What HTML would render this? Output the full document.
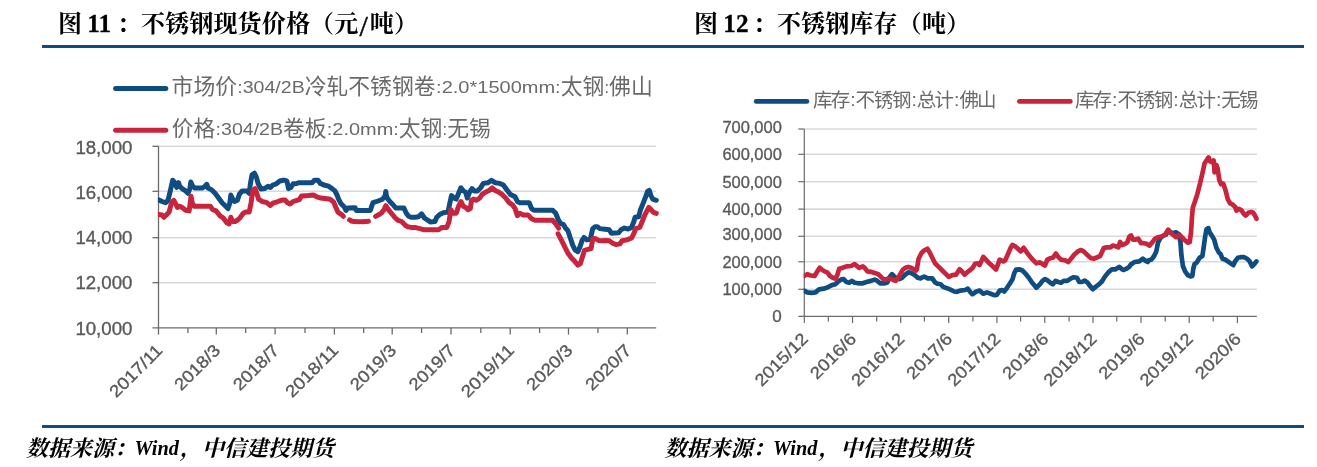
<!DOCTYPE html>
<html lang="zh-CN">
<head>
<meta charset="utf-8">
<title>不锈钢现货价格 / 不锈钢库存</title>
<style>
html,body{margin:0;padding:0;background:#fff;}
body{width:1317px;height:467px;overflow:hidden;font-family:"Liberation Sans",sans-serif;}
#page{position:relative;width:1317px;height:467px;background:#fff;overflow:hidden;}
.rule{position:absolute;left:42px;width:1262px;height:3px;background:#0f4c81;}
#rule-top{top:44.5px;}
#rule-bottom{top:424.8px;}
svg{position:absolute;left:0;top:0;overflow:visible;will-change:transform;}
svg text{font-family:"Liberation Sans",sans-serif;}
svg text.ax{stroke:#595959;stroke-width:0.35px;}
svg text.serif{font-family:"Liberation Serif",serif;font-weight:bold;}
svg text.kailat{font-family:"Liberation Serif",serif;font-weight:bold;font-style:italic;}
</style>
</head>
<body>
<div id="page">
<div class="rule" id="rule-top"></div>
<div class="rule" id="rule-bottom"></div>
<svg class="title" width="1317" height="467" viewBox="0 0 1317 467" role="img" aria-label="图 11：不锈钢现货价格（元/吨）">
<text x="58" y="32" font-size="24" fill="#000" style="font-family:'Liberation Serif','Noto Serif CJK SC',serif;font-weight:bold">图</text>
<text class="serif" x="87.3" y="31.7" font-size="25.2" fill="#000" stroke="#000" stroke-width="0.3">11</text>
<text x="117" y="32" font-size="24" fill="#000" style="font-family:'Liberation Serif','Noto Serif CJK SC',serif;font-weight:bold">：</text>
<text x="141" y="32" font-size="24" fill="#000" textLength="217.2" lengthAdjust="spacing" style="font-family:'Liberation Serif','Noto Serif CJK SC',serif;font-weight:bold">不锈钢现货价格（元</text>
<text x="359.5" y="35.6" font-size="30" fill="#000" stroke="#000" stroke-width="0.5" style="font-family:'Liberation Serif',serif">/</text>
<text x="369.85" y="32" font-size="24" fill="#000" textLength="48.15" lengthAdjust="spacing" style="font-family:'Liberation Serif','Noto Serif CJK SC',serif;font-weight:bold">吨）</text>
</svg>
<svg class="title" width="1317" height="467" viewBox="0 0 1317 467" role="img" aria-label="图 12：不锈钢库存（吨）">
<text x="694" y="32" font-size="24" fill="#000" style="font-family:'Liberation Serif','Noto Serif CJK SC',serif;font-weight:bold">图</text>
<text class="serif" x="723.3" y="31.7" font-size="25.2" fill="#000" stroke="#000" stroke-width="0.3">12</text>
<text x="753" y="32" font-size="24" fill="#000" style="font-family:'Liberation Serif','Noto Serif CJK SC',serif;font-weight:bold">：</text>
<text x="777" y="32" font-size="24" fill="#000" textLength="193.05" lengthAdjust="spacing" style="font-family:'Liberation Serif','Noto Serif CJK SC',serif;font-weight:bold">不锈钢库存（吨）</text>
</svg>
<svg class="chart" id="chart1" width="1317" height="467" viewBox="0 0 1317 467" role="img" aria-label="不锈钢现货价格">
<line x1="158.5" y1="146.3" x2="656.2" y2="146.3" stroke="#d9d9d9" stroke-width="1.5"/>
<line x1="158.5" y1="191.3" x2="656.2" y2="191.3" stroke="#d9d9d9" stroke-width="1.5"/>
<line x1="158.5" y1="237.7" x2="656.2" y2="237.7" stroke="#d9d9d9" stroke-width="1.5"/>
<line x1="158.5" y1="282.7" x2="656.2" y2="282.7" stroke="#d9d9d9" stroke-width="1.5"/>
<line x1="158.5" y1="146.3" x2="158.5" y2="327.8" stroke="#6b6b6b" stroke-width="1.3"/>
<line x1="152.5" y1="327.8" x2="656.2" y2="327.8" stroke="#6b6b6b" stroke-width="1.3"/>
<line x1="152.5" y1="146.3" x2="158.5" y2="146.3" stroke="#6b6b6b" stroke-width="1.3"/>
<line x1="152.5" y1="191.3" x2="158.5" y2="191.3" stroke="#6b6b6b" stroke-width="1.3"/>
<line x1="152.5" y1="237.7" x2="158.5" y2="237.7" stroke="#6b6b6b" stroke-width="1.3"/>
<line x1="152.5" y1="282.7" x2="158.5" y2="282.7" stroke="#6b6b6b" stroke-width="1.3"/>
<line x1="158.5" y1="327.8" x2="158.5" y2="334.6" stroke="#6b6b6b" stroke-width="1.3"/>
<line x1="187.9" y1="327.8" x2="187.9" y2="333.0" stroke="#6b6b6b" stroke-width="1.3"/>
<line x1="216.3" y1="327.8" x2="216.3" y2="334.6" stroke="#6b6b6b" stroke-width="1.3"/>
<line x1="245.7" y1="327.8" x2="245.7" y2="333.0" stroke="#6b6b6b" stroke-width="1.3"/>
<line x1="275.1" y1="327.8" x2="275.1" y2="334.6" stroke="#6b6b6b" stroke-width="1.3"/>
<line x1="305.0" y1="327.8" x2="305.0" y2="333.0" stroke="#6b6b6b" stroke-width="1.3"/>
<line x1="334.4" y1="327.8" x2="334.4" y2="334.6" stroke="#6b6b6b" stroke-width="1.3"/>
<line x1="363.7" y1="327.8" x2="363.7" y2="333.0" stroke="#6b6b6b" stroke-width="1.3"/>
<line x1="392.2" y1="327.8" x2="392.2" y2="334.6" stroke="#6b6b6b" stroke-width="1.3"/>
<line x1="421.6" y1="327.8" x2="421.6" y2="333.0" stroke="#6b6b6b" stroke-width="1.3"/>
<line x1="451.0" y1="327.8" x2="451.0" y2="334.6" stroke="#6b6b6b" stroke-width="1.3"/>
<line x1="480.8" y1="327.8" x2="480.8" y2="333.0" stroke="#6b6b6b" stroke-width="1.3"/>
<line x1="510.2" y1="327.8" x2="510.2" y2="334.6" stroke="#6b6b6b" stroke-width="1.3"/>
<line x1="539.6" y1="327.8" x2="539.6" y2="333.0" stroke="#6b6b6b" stroke-width="1.3"/>
<line x1="568.5" y1="327.8" x2="568.5" y2="334.6" stroke="#6b6b6b" stroke-width="1.3"/>
<line x1="597.9" y1="327.8" x2="597.9" y2="333.0" stroke="#6b6b6b" stroke-width="1.3"/>
<line x1="627.3" y1="327.8" x2="627.3" y2="334.6" stroke="#6b6b6b" stroke-width="1.3"/>
<text class="ax" x="132.4" y="153.6" font-size="17.6" fill="#595959" text-anchor="end" textLength="57" lengthAdjust="spacingAndGlyphs">18,000</text>
<text class="ax" x="132.4" y="198.9" font-size="17.6" fill="#595959" text-anchor="end" textLength="57" lengthAdjust="spacingAndGlyphs">16,000</text>
<text class="ax" x="132.4" y="243.8" font-size="17.6" fill="#595959" text-anchor="end" textLength="57" lengthAdjust="spacingAndGlyphs">14,000</text>
<text class="ax" x="132.4" y="288.9" font-size="17.6" fill="#595959" text-anchor="end" textLength="57" lengthAdjust="spacingAndGlyphs">12,000</text>
<text class="ax" x="132.4" y="335.2" font-size="17.6" fill="#595959" text-anchor="end" textLength="57" lengthAdjust="spacingAndGlyphs">10,000</text>
<text class="ax" transform="translate(163.5 351.4) rotate(-45)" font-size="17" fill="#595959" text-anchor="end" textLength="66.7" lengthAdjust="spacingAndGlyphs">2017/11</text>
<text class="ax" transform="translate(221.3 351.4) rotate(-45)" font-size="17" fill="#595959" text-anchor="end" textLength="56.8" lengthAdjust="spacingAndGlyphs">2018/3</text>
<text class="ax" transform="translate(280.1 351.4) rotate(-45)" font-size="17" fill="#595959" text-anchor="end" textLength="56.8" lengthAdjust="spacingAndGlyphs">2018/7</text>
<text class="ax" transform="translate(339.4 351.4) rotate(-45)" font-size="17" fill="#595959" text-anchor="end" textLength="66.7" lengthAdjust="spacingAndGlyphs">2018/11</text>
<text class="ax" transform="translate(397.2 351.4) rotate(-45)" font-size="17" fill="#595959" text-anchor="end" textLength="56.8" lengthAdjust="spacingAndGlyphs">2019/3</text>
<text class="ax" transform="translate(456.0 351.4) rotate(-45)" font-size="17" fill="#595959" text-anchor="end" textLength="56.8" lengthAdjust="spacingAndGlyphs">2019/7</text>
<text class="ax" transform="translate(515.2 351.4) rotate(-45)" font-size="17" fill="#595959" text-anchor="end" textLength="66.7" lengthAdjust="spacingAndGlyphs">2019/11</text>
<text class="ax" transform="translate(573.5 351.4) rotate(-45)" font-size="17" fill="#595959" text-anchor="end" textLength="56.8" lengthAdjust="spacingAndGlyphs">2020/3</text>
<text class="ax" transform="translate(632.3 351.4) rotate(-45)" font-size="17" fill="#595959" text-anchor="end" textLength="56.8" lengthAdjust="spacingAndGlyphs">2020/7</text>
<clipPath id="clip1"><rect x="157.9" y="100" width="501.7" height="240"/></clipPath>
<g clip-path="url(#clip1)">
<path d="M158.5 199.9 L162.1 201.5 L165.6 202.7 L168.0 200.3 L170.3 190.9 L172.7 180.3 L175.0 182.7 L176.7 187.4 L178.6 182.7 L179.7 186.2 L182.1 188.6 L185.6 190.9 L188.0 193.3 L189.9 188.6 L190.8 182.0 L192.7 186.2 L195.0 188.1 L202.1 188.1 L204.5 186.7 L206.8 184.3 L208.0 188.1 L211.5 189.7 L215.1 193.3 L218.6 198.0 L222.1 202.7 L225.7 206.2 L228.0 208.6 L229.9 202.7 L230.8 195.1 L232.7 199.1 L234.6 201.5 L237.4 200.3 L239.3 194.4 L242.1 190.9 L246.8 190.9 L249.2 193.3 L250.4 183.8 L252.0 174.9 L254.4 173.2 L256.3 176.8 L258.2 183.8 L261.0 189.0 L264.5 188.6 L268.0 186.2 L270.4 187.4 L272.8 185.0 L276.3 183.8 L279.8 181.0 L283.4 180.3 L285.0 180.3 L286.9 181.0 L288.5 188.6 L290.9 187.4 L293.2 183.8 L296.8 183.4 L299.1 182.7 L312.1 182.7 L314.4 180.3 L318.0 180.3 L320.3 183.4 L323.9 185.0 L328.6 186.2 L332.1 188.6 L334.9 190.9 L337.0 195.0 L337.3 195.6 L338.7 199.3 L340.9 203.6 L344.3 207.0 L346.0 210.4 L348.1 207.9 L355.0 207.7 L356.3 210.4 L370.4 210.4 L371.7 206.1 L373.0 202.7 L378.1 201.0 L382.4 199.3 L384.4 196.8 L385.0 196.7 L385.8 191.4 L386.3 195.0 L387.2 198.0 L389.8 201.5 L393.3 205.0 L395.7 207.9 L403.9 207.9 L406.3 213.3 L408.6 216.3 L411.0 217.3 L415.0 217.3 L418.5 216.8 L421.6 213.8 L424.4 218.0 L428.0 220.3 L430.3 222.0 L435.0 221.5 L436.7 217.3 L439.7 214.5 L443.3 212.8 L448.0 212.1 L449.9 202.7 L451.5 195.6 L453.9 198.0 L456.2 199.1 L458.6 193.3 L460.9 187.8 L463.3 190.9 L465.6 192.1 L467.3 198.0 L469.6 192.1 L472.0 188.6 L474.3 190.9 L477.4 190.9 L480.9 187.4 L483.3 183.4 L488.0 182.7 L491.5 180.3 L495.1 182.7 L499.8 183.4 L503.3 185.0 L506.8 189.7 L510.4 194.4 L515.1 196.8 L517.4 201.5 L519.8 202.7 L529.2 202.7 L531.6 208.6 L533.9 210.2 L545.0 210.2 L552.7 210.2 L555.7 213.3 L558.1 219.2 L560.4 223.4 L563.3 224.3 L565.6 228.1 L568.0 230.9 L570.3 238.0 L572.7 245.1 L575.0 249.8 L577.9 251.7 L580.2 246.2 L582.1 240.4 L584.0 237.5 L586.8 239.9 L590.3 239.2 L592.7 228.6 L595.1 226.7 L597.4 226.7 L599.8 228.6 L603.3 229.1 L609.2 229.8 L611.5 233.3 L618.6 232.8 L621.0 229.8 L624.5 228.1 L628.0 229.1 L631.6 227.4 L633.9 221.5 L635.1 217.3 L638.6 216.8 L640.5 209.7 L642.9 203.9 L645.2 198.0 L647.6 191.4 L649.2 190.4 L650.9 195.6 L652.8 199.1 L656.3 200.3" fill="none" stroke="#0f4c81" stroke-width="5" stroke-linejoin="round" stroke-linecap="round"/>
<path d="M158.5 214.5 L162.1 214.9 L163.9 217.3 L166.8 214.5 L169.1 212.1 L171.5 202.7 L173.8 200.3 L175.7 203.9 L177.4 207.4 L179.7 206.2 L182.1 207.4 L185.6 210.2 L189.1 210.9 L190.3 202.7 L191.0 196.3 L192.2 202.7 L193.9 206.2 L210.3 206.2 L212.7 209.7 L216.2 210.9 L219.8 215.6 L223.3 218.0 L226.8 222.7 L229.2 223.9 L230.8 217.3 L232.7 221.5 L235.1 221.5 L237.4 220.3 L239.8 218.0 L243.3 213.3 L245.7 212.1 L249.2 212.1 L251.1 202.7 L252.7 190.9 L255.1 188.6 L256.7 193.3 L258.6 199.1 L262.2 201.5 L266.9 202.7 L270.4 205.5 L272.8 203.2 L276.3 202.2 L279.8 200.8 L283.4 199.9 L285.0 199.9 L287.4 202.7 L290.2 203.9 L293.2 201.5 L296.8 200.3 L299.1 199.9 L301.5 196.1 L308.6 195.6 L313.3 195.1 L316.8 196.8 L320.3 198.0 L325.0 198.4 L330.1 199.3 L333.6 201.9 L335.7 207.0 L337.9 212.1 L341.3 214.3 L343.3 216.3" fill="none" stroke="#c8243e" stroke-width="5" stroke-linejoin="round" stroke-linecap="round"/>
<path d="M349.6 219.9 L351.5 221.0 L354.0 221.6 L359.2 221.8" fill="none" stroke="#c8243e" stroke-width="5" stroke-linejoin="round" stroke-linecap="round"/>
<path d="M361.4 221.8 L366.0 221.6 L368.4 221.2" fill="none" stroke="#c8243e" stroke-width="5" stroke-linejoin="round" stroke-linecap="round"/>
<path d="M375.6 216.4 L378.6 214.8 L381.5 213.0 L384.1 209.6 L385.8 205.7 L388.4 209.6 L391.8 213.8 L395.0 217.7 L398.0 220.3 L401.6 221.5 L405.1 225.1 L407.5 226.7 L411.0 227.4 L415.0 227.4 L419.7 228.6 L424.4 229.8 L438.6 229.8 L442.1 227.4 L446.8 227.4 L449.1 221.5 L450.8 209.7 L453.2 213.3 L456.2 213.3 L458.6 206.2 L460.9 201.5 L463.3 206.2 L465.6 207.4 L468.0 209.7 L470.3 208.6 L471.5 200.3 L473.9 199.1 L476.2 200.3 L479.8 198.0 L482.1 194.4 L485.7 192.1 L489.2 190.4 L492.2 187.8 L495.1 190.4 L498.6 192.1 L502.1 194.4 L505.7 198.0 L509.2 202.7 L512.7 205.0 L515.1 208.6 L517.4 215.6 L519.8 213.3 L523.3 214.9 L528.0 214.9 L531.6 218.7 L535.1 220.3 L545.0 220.3 L552.7 220.3 L555.7 223.9 L558.6 228.1" fill="none" stroke="#c8243e" stroke-width="5" stroke-linejoin="round" stroke-linecap="round"/>
<path d="M558.1 233.8 L560.9 239.2 L564.4 246.2 L568.0 253.3 L571.5 258.0 L575.0 261.6 L577.9 265.1 L580.2 263.9 L582.1 258.0 L584.5 250.3 L588.0 249.3 L591.1 248.6 L592.7 239.2 L595.1 238.5 L598.6 240.4 L602.1 240.8 L605.7 240.4 L609.2 240.8 L612.7 243.2 L616.2 244.6 L619.8 243.9 L622.1 240.8 L626.8 239.9 L631.6 238.0 L633.9 233.3 L635.8 228.6 L639.8 227.4 L642.2 221.5 L644.5 215.6 L646.9 210.9 L648.8 207.4 L650.9 209.3 L653.2 212.1 L656.3 213.3" fill="none" stroke="#c8243e" stroke-width="5" stroke-linejoin="round" stroke-linecap="round"/>
</g>
<line x1="115.6" y1="88.6" x2="165.8" y2="88.6" stroke="#0f4c81" stroke-width="5" stroke-linecap="round"/>
<line x1="115.6" y1="130.2" x2="165.8" y2="130.2" stroke="#c8243e" stroke-width="5" stroke-linecap="round"/>
<text x="171.60" y="94.20" font-size="21.8" fill="#6a6a6a" textLength="65.4" lengthAdjust="spacing" style="font-family:'Liberation Sans','Noto Sans CJK SC',sans-serif">市场价</text>
<text x="237.30" y="93.20" font-size="16.5" fill="#6a6a6a" textLength="67.40" lengthAdjust="spacingAndGlyphs">:304/2B</text>
<text x="304.70" y="94.20" font-size="21.8" fill="#6a6a6a" textLength="130.8" lengthAdjust="spacing" style="font-family:'Liberation Sans','Noto Sans CJK SC',sans-serif">冷轧不锈钢卷</text>
<text x="436.10" y="93.20" font-size="16.5" fill="#6a6a6a" textLength="124.60" lengthAdjust="spacingAndGlyphs">:2.0*1500mm:</text>
<text x="560.70" y="94.20" font-size="21.8" fill="#6a6a6a" textLength="43.6" lengthAdjust="spacing" style="font-family:'Liberation Sans','Noto Sans CJK SC',sans-serif">太钢</text>
<text x="604.50" y="93.20" font-size="16.5" fill="#6a6a6a" textLength="4.60" lengthAdjust="spacingAndGlyphs">:</text>
<text x="609.10" y="94.20" font-size="21.8" fill="#6a6a6a" textLength="43.6" lengthAdjust="spacing" style="font-family:'Liberation Sans','Noto Sans CJK SC',sans-serif">佛山</text>
<text x="171.80" y="135.80" font-size="21.8" fill="#6a6a6a" textLength="43.6" lengthAdjust="spacing" style="font-family:'Liberation Sans','Noto Sans CJK SC',sans-serif">价格</text>
<text x="215.60" y="134.80" font-size="16.5" fill="#6a6a6a" textLength="67.40" lengthAdjust="spacingAndGlyphs">:304/2B</text>
<text x="283.00" y="135.80" font-size="21.8" fill="#6a6a6a" textLength="43.6" lengthAdjust="spacing" style="font-family:'Liberation Sans','Noto Sans CJK SC',sans-serif">卷板</text>
<text x="326.80" y="134.80" font-size="16.5" fill="#6a6a6a" textLength="72.00" lengthAdjust="spacingAndGlyphs">:2.0mm:</text>
<text x="398.80" y="135.80" font-size="21.8" fill="#6a6a6a" textLength="43.6" lengthAdjust="spacing" style="font-family:'Liberation Sans','Noto Sans CJK SC',sans-serif">太钢</text>
<text x="442.60" y="134.80" font-size="16.5" fill="#6a6a6a" textLength="4.60" lengthAdjust="spacingAndGlyphs">:</text>
<text x="447.20" y="135.80" font-size="21.8" fill="#6a6a6a" textLength="43.6" lengthAdjust="spacing" style="font-family:'Liberation Sans','Noto Sans CJK SC',sans-serif">无锡</text>
</svg>
<svg class="chart" id="chart2" width="1317" height="467" viewBox="0 0 1317 467" role="img" aria-label="不锈钢库存">
<line x1="804.3" y1="129.0" x2="1256.8" y2="129.0" stroke="#d9d9d9" stroke-width="1.6"/>
<line x1="804.3" y1="154.3" x2="1256.8" y2="154.3" stroke="#d9d9d9" stroke-width="1.6"/>
<line x1="804.3" y1="181.7" x2="1256.8" y2="181.7" stroke="#d9d9d9" stroke-width="1.6"/>
<line x1="804.3" y1="209.1" x2="1256.8" y2="209.1" stroke="#d9d9d9" stroke-width="1.6"/>
<line x1="804.3" y1="236.3" x2="1256.8" y2="236.3" stroke="#d9d9d9" stroke-width="1.6"/>
<line x1="804.3" y1="261.8" x2="1256.8" y2="261.8" stroke="#d9d9d9" stroke-width="1.6"/>
<line x1="804.3" y1="289.3" x2="1256.8" y2="289.3" stroke="#d9d9d9" stroke-width="1.6"/>
<line x1="804.3" y1="129.0" x2="804.3" y2="316.3" stroke="#6b6b6b" stroke-width="1.2"/>
<line x1="798.3" y1="316.3" x2="1256.8" y2="316.3" stroke="#6b6b6b" stroke-width="1.2"/>
<line x1="798.3" y1="129.0" x2="804.3" y2="129.0" stroke="#6b6b6b" stroke-width="1.2"/>
<line x1="798.3" y1="154.3" x2="804.3" y2="154.3" stroke="#6b6b6b" stroke-width="1.2"/>
<line x1="798.3" y1="181.7" x2="804.3" y2="181.7" stroke="#6b6b6b" stroke-width="1.2"/>
<line x1="798.3" y1="209.1" x2="804.3" y2="209.1" stroke="#6b6b6b" stroke-width="1.2"/>
<line x1="798.3" y1="236.3" x2="804.3" y2="236.3" stroke="#6b6b6b" stroke-width="1.2"/>
<line x1="798.3" y1="261.8" x2="804.3" y2="261.8" stroke="#6b6b6b" stroke-width="1.2"/>
<line x1="798.3" y1="289.3" x2="804.3" y2="289.3" stroke="#6b6b6b" stroke-width="1.2"/>
<line x1="804.3" y1="316.3" x2="804.3" y2="323.1" stroke="#6b6b6b" stroke-width="1.2"/>
<line x1="828.3" y1="316.3" x2="828.3" y2="321.5" stroke="#6b6b6b" stroke-width="1.2"/>
<line x1="852.5" y1="316.3" x2="852.5" y2="323.1" stroke="#6b6b6b" stroke-width="1.2"/>
<line x1="876.7" y1="316.3" x2="876.7" y2="321.5" stroke="#6b6b6b" stroke-width="1.2"/>
<line x1="900.7" y1="316.3" x2="900.7" y2="323.1" stroke="#6b6b6b" stroke-width="1.2"/>
<line x1="924.4" y1="316.3" x2="924.4" y2="321.5" stroke="#6b6b6b" stroke-width="1.2"/>
<line x1="948.7" y1="316.3" x2="948.7" y2="323.1" stroke="#6b6b6b" stroke-width="1.2"/>
<line x1="972.9" y1="316.3" x2="972.9" y2="321.5" stroke="#6b6b6b" stroke-width="1.2"/>
<line x1="996.9" y1="316.3" x2="996.9" y2="323.1" stroke="#6b6b6b" stroke-width="1.2"/>
<line x1="1020.6" y1="316.3" x2="1020.6" y2="321.5" stroke="#6b6b6b" stroke-width="1.2"/>
<line x1="1044.8" y1="316.3" x2="1044.8" y2="323.1" stroke="#6b6b6b" stroke-width="1.2"/>
<line x1="1069.1" y1="316.3" x2="1069.1" y2="321.5" stroke="#6b6b6b" stroke-width="1.2"/>
<line x1="1093.0" y1="316.3" x2="1093.0" y2="323.1" stroke="#6b6b6b" stroke-width="1.2"/>
<line x1="1116.8" y1="316.3" x2="1116.8" y2="321.5" stroke="#6b6b6b" stroke-width="1.2"/>
<line x1="1141.0" y1="316.3" x2="1141.0" y2="323.1" stroke="#6b6b6b" stroke-width="1.2"/>
<line x1="1165.2" y1="316.3" x2="1165.2" y2="321.5" stroke="#6b6b6b" stroke-width="1.2"/>
<line x1="1189.2" y1="316.3" x2="1189.2" y2="323.1" stroke="#6b6b6b" stroke-width="1.2"/>
<line x1="1213.2" y1="316.3" x2="1213.2" y2="321.5" stroke="#6b6b6b" stroke-width="1.2"/>
<line x1="1237.4" y1="316.3" x2="1237.4" y2="323.1" stroke="#6b6b6b" stroke-width="1.2"/>
<text class="ax" x="781.8" y="132.7" font-size="17" fill="#595959" text-anchor="end" textLength="59.4" lengthAdjust="spacingAndGlyphs">700,000</text>
<text class="ax" x="781.8" y="160.1" font-size="17" fill="#595959" text-anchor="end" textLength="59.4" lengthAdjust="spacingAndGlyphs">600,000</text>
<text class="ax" x="781.8" y="187.7" font-size="17" fill="#595959" text-anchor="end" textLength="59.4" lengthAdjust="spacingAndGlyphs">500,000</text>
<text class="ax" x="781.8" y="215.0" font-size="17" fill="#595959" text-anchor="end" textLength="59.4" lengthAdjust="spacingAndGlyphs">400,000</text>
<text class="ax" x="781.8" y="240.4" font-size="17" fill="#595959" text-anchor="end" textLength="59.4" lengthAdjust="spacingAndGlyphs">300,000</text>
<text class="ax" x="781.8" y="267.7" font-size="17" fill="#595959" text-anchor="end" textLength="59.4" lengthAdjust="spacingAndGlyphs">200,000</text>
<text class="ax" x="781.8" y="294.9" font-size="17" fill="#595959" text-anchor="end" textLength="59.4" lengthAdjust="spacingAndGlyphs">100,000</text>
<text class="ax" x="781.8" y="322.0" font-size="17" fill="#595959" text-anchor="end">0</text>
<text class="ax" transform="translate(809.0 340.0) rotate(-45)" font-size="17" fill="#595959" text-anchor="end" textLength="66.7" lengthAdjust="spacingAndGlyphs">2015/12</text>
<text class="ax" transform="translate(857.2 340.0) rotate(-45)" font-size="17" fill="#595959" text-anchor="end" textLength="56.8" lengthAdjust="spacingAndGlyphs">2016/6</text>
<text class="ax" transform="translate(905.4 340.0) rotate(-45)" font-size="17" fill="#595959" text-anchor="end" textLength="66.7" lengthAdjust="spacingAndGlyphs">2016/12</text>
<text class="ax" transform="translate(953.4 340.0) rotate(-45)" font-size="17" fill="#595959" text-anchor="end" textLength="56.8" lengthAdjust="spacingAndGlyphs">2017/6</text>
<text class="ax" transform="translate(1001.6 340.0) rotate(-45)" font-size="17" fill="#595959" text-anchor="end" textLength="66.7" lengthAdjust="spacingAndGlyphs">2017/12</text>
<text class="ax" transform="translate(1049.5 340.0) rotate(-45)" font-size="17" fill="#595959" text-anchor="end" textLength="56.8" lengthAdjust="spacingAndGlyphs">2018/6</text>
<text class="ax" transform="translate(1097.7 340.0) rotate(-45)" font-size="17" fill="#595959" text-anchor="end" textLength="66.7" lengthAdjust="spacingAndGlyphs">2018/12</text>
<text class="ax" transform="translate(1145.7 340.0) rotate(-45)" font-size="17" fill="#595959" text-anchor="end" textLength="56.8" lengthAdjust="spacingAndGlyphs">2019/6</text>
<text class="ax" transform="translate(1193.9 340.0) rotate(-45)" font-size="17" fill="#595959" text-anchor="end" textLength="66.7" lengthAdjust="spacingAndGlyphs">2019/12</text>
<text class="ax" transform="translate(1242.1 340.0) rotate(-45)" font-size="17" fill="#595959" text-anchor="end" textLength="56.8" lengthAdjust="spacingAndGlyphs">2020/6</text>
<clipPath id="clip2"><rect x="803.7" y="100" width="456.5" height="240"/></clipPath>
<g clip-path="url(#clip2)">
<path d="M804.0 290.6 L807.3 292.4 L811.8 292.9 L815.5 292.4 L819.1 289.3 L823.7 288.7 L827.3 287.5 L831.9 285.1 L835.5 284.2 L838.2 281.5 L841.0 279.6 L843.7 279.1 L846.4 282.0 L849.2 282.7 L851.9 280.9 L854.6 282.7 L858.3 283.3 L862.8 283.3 L866.5 282.0 L871.0 280.9 L874.7 279.6 L877.4 280.9 L880.1 283.3 L884.7 283.3 L887.4 282.4 L889.2 277.8 L892.0 274.2 L893.8 276.0 L896.5 278.4 L899.2 279.1 L902.0 277.8 L904.7 275.1 L908.3 272.4 L911.1 272.9 L914.7 275.1 L917.5 277.3 L917.7 277.8 L920.5 278.4 L924.1 276.5 L927.7 278.4 L932.3 278.4 L935.0 282.4 L937.8 283.8 L940.5 284.2 L943.2 286.9 L946.9 288.2 L950.5 289.7 L954.2 291.5 L956.9 291.8 L960.5 290.6 L965.1 290.0 L967.8 288.7 L970.5 292.4 L972.4 294.2 L976.0 291.8 L979.6 290.6 L983.3 293.7 L986.9 292.4 L990.6 293.7 L994.2 295.1 L996.9 294.8 L999.7 290.6 L1002.4 290.0 L1004.2 291.5 L1007.0 287.8 L1009.7 283.8 L1012.4 279.6 L1014.2 273.3 L1016.1 269.6 L1019.7 269.3 L1022.4 270.5 L1025.2 273.3 L1028.8 277.8 L1032.5 283.3 L1032.7 283.3 L1036.4 287.8 L1040.0 284.2 L1042.7 280.6 L1044.9 279.1 L1047.3 280.2 L1050.0 282.4 L1052.8 284.2 L1055.5 280.9 L1058.2 282.0 L1061.0 282.7 L1063.7 280.9 L1067.3 280.9 L1071.0 278.4 L1073.7 277.3 L1077.0 277.8 L1079.2 282.0 L1081.9 282.0 L1084.6 280.6 L1087.4 282.4 L1090.1 286.0 L1092.8 289.3 L1095.6 286.9 L1099.2 284.2 L1101.9 281.5 L1104.7 276.9 L1108.3 272.4 L1111.9 269.3 L1115.6 269.3 L1119.2 266.9 L1122.0 269.3 L1123.8 270.0 L1126.5 268.7 L1129.2 266.9 L1131.1 264.2 L1134.7 262.0 L1139.3 261.4 L1142.9 258.7 L1145.6 260.9 L1147.7 262.0 L1148.4 260.5 L1151.4 259.6 L1154.1 256.0 L1156.3 251.4 L1158.1 242.3 L1160.5 237.8 L1163.2 235.9 L1165.9 234.7 L1168.3 231.0 L1172.3 233.2 L1176.0 232.3 L1178.7 234.1 L1180.5 242.3 L1181.4 255.1 L1182.9 266.0 L1185.1 271.4 L1187.8 275.1 L1190.5 276.5 L1192.3 276.0 L1193.3 268.7 L1194.5 264.2 L1196.9 262.3 L1199.6 257.8 L1202.4 256.0 L1203.6 247.8 L1205.1 236.9 L1206.5 229.2 L1208.4 228.1 L1209.6 232.3 L1212.0 235.9 L1214.2 239.6 L1216.4 247.8 L1218.7 252.3 L1220.6 254.2 L1222.4 258.7 L1225.1 259.6 L1227.9 261.4 L1230.6 263.3 L1233.3 265.1 L1235.1 261.4 L1237.9 257.8 L1240.6 257.2 L1244.2 257.2 L1247.0 258.7 L1249.7 261.4 L1252.1 266.4 L1254.3 264.2 L1256.4 261.4" fill="none" stroke="#0f4c81" stroke-width="4.7" stroke-linejoin="round" stroke-linecap="round"/>
<path d="M804.0 276.0 L807.3 274.2 L810.9 275.5 L814.6 276.0 L817.3 271.4 L819.7 267.8 L821.9 269.6 L824.6 271.4 L827.3 272.4 L830.0 276.0 L832.8 277.8 L835.5 278.7 L837.3 275.1 L839.2 268.7 L842.8 267.8 L846.4 266.4 L851.0 266.0 L854.6 264.2 L857.4 266.4 L859.2 267.8 L862.8 266.4 L864.6 267.8 L867.4 271.4 L871.0 271.8 L874.7 272.9 L878.3 274.2 L881.0 276.9 L883.8 279.6 L887.4 279.1 L891.0 278.7 L893.8 280.2 L895.6 280.9 L898.3 277.8 L900.2 274.2 L902.9 269.6 L905.6 267.8 L908.3 266.9 L911.1 267.8 L913.8 269.3 L915.6 270.5 L916.8 269.6 L918.6 258.7 L921.4 253.2 L924.1 250.5 L927.4 248.7 L929.6 252.3 L932.3 257.8 L935.0 263.3 L938.7 266.9 L942.3 270.5 L946.0 274.2 L948.7 276.9 L952.3 275.1 L956.0 274.7 L959.6 269.3 L962.3 271.8 L964.5 274.7 L967.8 271.8 L972.4 268.2 L975.1 263.8 L977.8 263.3 L979.6 265.1 L983.3 256.9 L986.0 259.6 L988.7 262.7 L992.4 266.0 L996.0 269.6 L999.7 259.6 L1003.3 261.4 L1005.1 260.5 L1007.9 254.2 L1010.6 247.8 L1012.4 245.0 L1015.2 246.3 L1017.9 248.7 L1020.6 251.4 L1023.7 247.8 L1026.1 251.4 L1028.8 255.1 L1032.5 259.6 L1032.7 259.6 L1036.4 263.3 L1040.0 262.3 L1042.7 264.2 L1044.9 265.6 L1047.3 259.6 L1050.0 258.3 L1052.8 257.8 L1055.9 253.6 L1058.2 256.9 L1061.0 259.6 L1064.6 260.2 L1068.2 262.0 L1071.0 258.7 L1074.6 254.2 L1078.3 251.1 L1081.0 250.0 L1083.7 251.4 L1087.4 255.1 L1091.0 258.3 L1093.7 258.7 L1097.4 257.2 L1100.1 256.0 L1101.9 252.3 L1103.7 248.1 L1106.5 247.4 L1110.1 247.4 L1112.9 245.6 L1115.6 246.3 L1118.3 247.4 L1120.1 241.9 L1122.0 245.0 L1124.7 244.1 L1127.4 242.3 L1129.2 236.9 L1131.1 235.4 L1132.9 239.6 L1135.6 239.6 L1138.3 238.7 L1141.1 243.2 L1143.8 243.2 L1146.5 243.8 L1147.7 244.5 L1149.6 245.6 L1152.3 242.3 L1155.0 238.7 L1157.7 237.2 L1161.4 236.5 L1165.0 234.7 L1168.3 229.6 L1170.5 232.8 L1173.2 235.0 L1176.0 237.2 L1177.8 235.9 L1179.6 234.7 L1182.3 237.8 L1185.1 240.5 L1187.8 242.7 L1189.6 242.3 L1190.9 233.2 L1191.5 225.1 L1191.9 217.9 L1192.8 207.8 L1194.6 202.4 L1197.3 194.2 L1200.1 183.3 L1202.8 171.4 L1204.6 163.2 L1207.3 159.2 L1208.6 157.4 L1210.1 161.4 L1212.3 162.3 L1213.7 160.5 L1214.6 172.3 L1216.4 165.0 L1217.7 168.7 L1219.2 179.6 L1221.0 184.2 L1223.2 183.6 L1225.6 190.5 L1227.9 199.6 L1230.1 203.3 L1232.8 204.7 L1235.2 206.9 L1236.5 210.6 L1238.9 208.8 L1241.4 210.2 L1243.8 213.9 L1245.6 215.7 L1248.3 212.8 L1251.1 212.0 L1253.4 212.8 L1255.2 216.0 L1256.5 218.8" fill="none" stroke="#c8243e" stroke-width="4.7" stroke-linejoin="round" stroke-linecap="round"/>
</g>
<line x1="756.2" y1="101.4" x2="806.9" y2="101.4" stroke="#0f4c81" stroke-width="4.8" stroke-linecap="round"/>
<line x1="1019.4" y1="101.4" x2="1070.3" y2="101.4" stroke="#c8243e" stroke-width="4.8" stroke-linecap="round"/>
<text x="813.00" y="107.20" font-size="19.5" fill="#6a6a6a" textLength="37.2" lengthAdjust="spacing" style="font-family:'Liberation Sans','Noto Sans CJK SC',sans-serif">库存</text>
<text x="850.20" y="105.90" font-size="19" fill="#6a6a6a" textLength="5.40" lengthAdjust="spacingAndGlyphs">:</text>
<text x="855.60" y="107.20" font-size="19.5" fill="#6a6a6a" textLength="55.8" lengthAdjust="spacing" style="font-family:'Liberation Sans','Noto Sans CJK SC',sans-serif">不锈钢</text>
<text x="911.40" y="105.90" font-size="19" fill="#6a6a6a" textLength="5.40" lengthAdjust="spacingAndGlyphs">:</text>
<text x="916.80" y="107.20" font-size="19.5" fill="#6a6a6a" textLength="37.2" lengthAdjust="spacing" style="font-family:'Liberation Sans','Noto Sans CJK SC',sans-serif">总计</text>
<text x="954.00" y="105.90" font-size="19" fill="#6a6a6a" textLength="5.40" lengthAdjust="spacingAndGlyphs">:</text>
<text x="959.40" y="107.20" font-size="19.5" fill="#6a6a6a" textLength="37.2" lengthAdjust="spacing" style="font-family:'Liberation Sans','Noto Sans CJK SC',sans-serif">佛山</text>
<text x="1074.90" y="107.20" font-size="19.5" fill="#6a6a6a" textLength="37.2" lengthAdjust="spacing" style="font-family:'Liberation Sans','Noto Sans CJK SC',sans-serif">库存</text>
<text x="1112.10" y="105.90" font-size="19" fill="#6a6a6a" textLength="5.40" lengthAdjust="spacingAndGlyphs">:</text>
<text x="1117.50" y="107.20" font-size="19.5" fill="#6a6a6a" textLength="55.8" lengthAdjust="spacing" style="font-family:'Liberation Sans','Noto Sans CJK SC',sans-serif">不锈钢</text>
<text x="1173.30" y="105.90" font-size="19" fill="#6a6a6a" textLength="5.40" lengthAdjust="spacingAndGlyphs">:</text>
<text x="1178.70" y="107.20" font-size="19.5" fill="#6a6a6a" textLength="37.2" lengthAdjust="spacing" style="font-family:'Liberation Sans','Noto Sans CJK SC',sans-serif">总计</text>
<text x="1215.90" y="105.90" font-size="19" fill="#6a6a6a" textLength="5.40" lengthAdjust="spacingAndGlyphs">:</text>
<text x="1221.30" y="107.20" font-size="19.5" fill="#6a6a6a" textLength="37.2" lengthAdjust="spacing" style="font-family:'Liberation Sans','Noto Sans CJK SC',sans-serif">无锡</text>
</svg>
<svg class="source" width="1317" height="467" viewBox="0 0 1317 467" role="img" aria-label="数据来源：Wind，中信建投期货">
<text x="26" y="455.5" font-size="22" fill="#000" textLength="88" lengthAdjust="spacing" style="font-family:'Liberation Serif','Noto Serif CJK SC',serif;font-weight:bold;font-style:italic">数据来源</text>
<text x="114" y="455.5" font-size="22" fill="#000" style="font-family:'Liberation Serif','Noto Serif CJK SC',serif;font-weight:bold;font-style:italic">：</text>
<text class="kailat" x="134.5" y="454.7" font-size="21" fill="#000" textLength="44.5" lengthAdjust="spacingAndGlyphs">Wind</text>
<text x="180" y="455.5" font-size="22" fill="#000" style="font-family:'Liberation Serif','Noto Serif CJK SC',serif;font-weight:bold;font-style:italic">，</text>
<text x="202" y="455.5" font-size="22" fill="#000" textLength="132" lengthAdjust="spacing" style="font-family:'Liberation Serif','Noto Serif CJK SC',serif;font-weight:bold;font-style:italic">中信建投期货</text>
</svg>
<svg class="source" width="1317" height="467" viewBox="0 0 1317 467" role="img" aria-label="数据来源：Wind，中信建投期货">
<text x="664.5" y="455.5" font-size="22" fill="#000" textLength="88" lengthAdjust="spacing" style="font-family:'Liberation Serif','Noto Serif CJK SC',serif;font-weight:bold;font-style:italic">数据来源</text>
<text x="752.5" y="455.5" font-size="22" fill="#000" style="font-family:'Liberation Serif','Noto Serif CJK SC',serif;font-weight:bold;font-style:italic">：</text>
<text class="kailat" x="773.0" y="454.7" font-size="21" fill="#000" textLength="44.5" lengthAdjust="spacingAndGlyphs">Wind</text>
<text x="818.5" y="455.5" font-size="22" fill="#000" style="font-family:'Liberation Serif','Noto Serif CJK SC',serif;font-weight:bold;font-style:italic">，</text>
<text x="840.5" y="455.5" font-size="22" fill="#000" textLength="132" lengthAdjust="spacing" style="font-family:'Liberation Serif','Noto Serif CJK SC',serif;font-weight:bold;font-style:italic">中信建投期货</text>
</svg>
</div>
</body>
</html>
